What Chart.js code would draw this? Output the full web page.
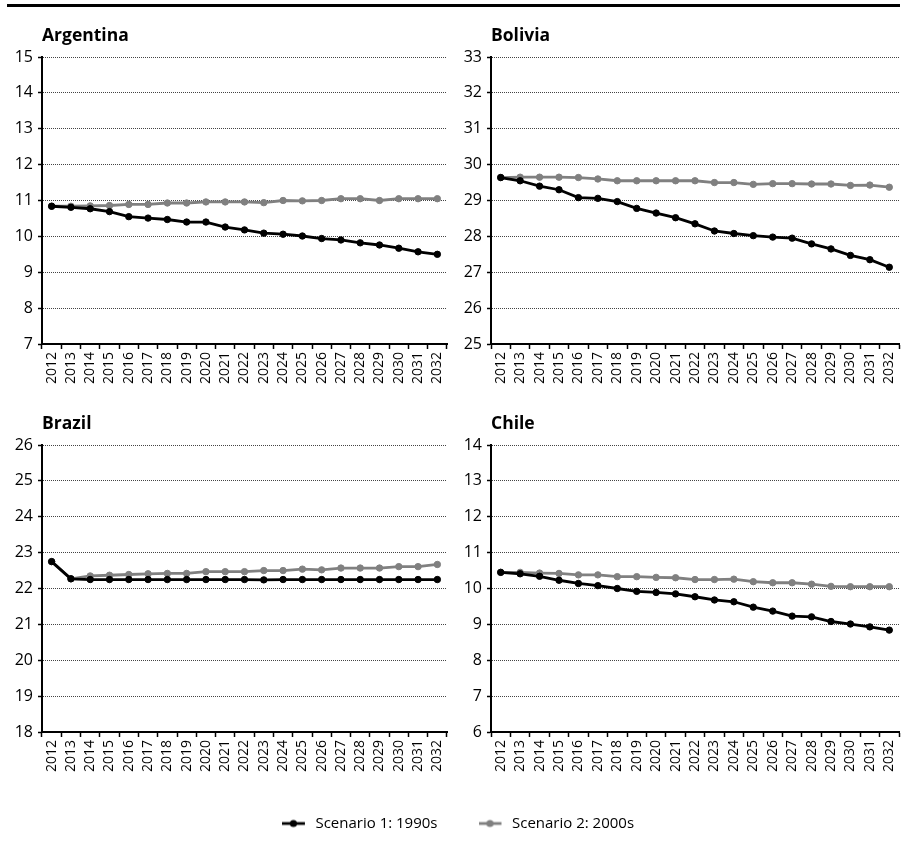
<!DOCTYPE html>
<html><head><meta charset="utf-8">
<script src="https://cdn.jsdelivr.net/npm/chart.js@4"></script>
<style>
html,body{margin:0;padding:0;background:#fff;}
#wrap{position:relative;width:904px;height:850px;overflow:hidden;background:#fff;}
#rule{position:absolute;left:7px;top:4px;width:893px;height:3px;background:#000;}
canvas{position:absolute;}
</style></head><body>
<div id="wrap"><div id="rule"></div>
<canvas id="c0" width="452" height="400" style="left:0;top:0"></canvas>
<canvas id="c1" width="455" height="400" style="left:449px;top:0"></canvas>
<canvas id="c2" width="452" height="400" style="left:0;top:388px"></canvas>
<canvas id="c3" width="455" height="400" style="left:449px;top:388px"></canvas>
<canvas id="lg" width="904" height="220" style="left:6px;top:775px"></canvas>
</div>
<script>
const years = ['2012','2013','2014','2015','2016','2017','2018','2019','2020','2021','2022','2023','2024','2025','2026','2027','2028','2029','2030','2031','2032'];
const seriesNames = ['Scenario 1: 1990s','Scenario 2: 2000s'];
const titles = ['Argentina','Bolivia','Brazil','Chile'];

const argentinaS1 = [10.84,10.81,10.77,10.69,10.55,10.51,10.47,10.40,10.40,10.26,10.18,10.09,10.06,10.01,9.94,9.90,9.82,9.76,9.67,9.57,9.50];
const argentinaS2 = [10.84,10.84,10.85,10.86,10.89,10.89,10.93,10.93,10.96,10.96,10.96,10.94,11.00,10.99,11.00,11.05,11.05,11.00,11.05,11.05,11.05];
const boliviaS1 = [29.64,29.55,29.40,29.30,29.08,29.06,28.97,28.78,28.65,28.52,28.35,28.15,28.08,28.02,27.98,27.95,27.79,27.65,27.47,27.35,27.14];
const boliviaS2 = [29.64,29.65,29.65,29.65,29.64,29.60,29.55,29.55,29.55,29.55,29.55,29.50,29.50,29.45,29.47,29.47,29.46,29.46,29.42,29.43,29.37];
const brazilS1 = [22.75,22.27,22.25,22.25,22.25,22.25,22.25,22.25,22.25,22.25,22.25,22.24,22.25,22.25,22.25,22.25,22.25,22.25,22.25,22.25,22.25];
const brazilS2 = [22.75,22.27,22.35,22.37,22.39,22.41,22.42,22.42,22.47,22.47,22.47,22.50,22.50,22.54,22.52,22.57,22.57,22.57,22.61,22.61,22.67];
const chileS1 = [10.45,10.41,10.34,10.23,10.14,10.08,10.00,9.92,9.89,9.85,9.77,9.68,9.63,9.48,9.37,9.23,9.21,9.08,9.01,8.93,8.84];
const chileS2 = [10.45,10.45,10.43,10.42,10.38,10.38,10.33,10.33,10.31,10.30,10.25,10.25,10.26,10.19,10.16,10.16,10.12,10.06,10.05,10.05,10.05];

const argentinaRange = [7,15];
const boliviaRange = [25,33];
const brazilRange = [18,26];
const chileRange = [6,14];

const C1 = '#000000', C2 = '#808080';
Chart.defaults.font.family = "'Open Sans',sans-serif";
Chart.defaults.color = '#000';

function ds(label, data, color){
  return {label, data, borderColor:color, backgroundColor:color, pointBackgroundColor:color,
    pointBorderColor:color, borderWidth:2.8, pointRadius:3.2, pointBorderWidth:1, tension:0, clip:false};
}

function panel(id, title, s1, s2, range, padR){
  new Chart(document.getElementById(id), {
    type:'line',
    data:{labels:years, datasets:[ds(seriesNames[0], s1, C1), ds(seriesNames[1], s2, C2)]},
    options:{
      responsive:false, animation:false, devicePixelRatio:1,
      layout:{padding:{left:0,right:padR,top:26,bottom:0}},
      plugins:{legend:{display:false}, tooltip:{enabled:false},
        title:{display:true, text:title, align:'start', fullSize:false, color:'#000',
          font:{size:17.5, weight:'bold'}, padding:{top:0,bottom:10}}},
      scales:{
        x:{offset:true,
          grid:{display:true, drawOnChartArea:false, drawTicks:true, tickLength:5, tickColor:'#000', tickWidth:1.5, offset:true},
          border:{color:'#000', width:2},
          ticks:{minRotation:90, maxRotation:90, autoSkip:false, color:'#000', font:{size:14}, padding:3},
          afterFit:s=>{s.height=56; s.paddingRight=0; s.paddingLeft=0;}},
        y:{min:range[0], max:range[1],
          ticks:{stepSize:1, color:'#000', font:{size:16}, padding:5},
          grid:{color:'#444', lineWidth:1, tickLength:4, tickColor:'#000', tickWidth:1.5},
          border:{color:'#000', width:2, dash:[1,1]},
          afterFit:s=>{s.width=42;}}
      }
    }
  });
}

panel('c0', titles[0], argentinaS1, argentinaS2, argentinaRange, 2);
panel('c1', titles[1], boliviaS1, boliviaS2, boliviaRange, 4);
panel('c2', titles[2], brazilS1, brazilS2, brazilRange, 2);
panel('c3', titles[3], chileS1, chileS2, chileRange, 4);

function sample(color){
  const c = document.createElement('canvas');
  c.width = 26; c.height = 10;
  const g = c.getContext('2d');
  g.strokeStyle = color; g.lineWidth = 2.8;
  g.beginPath(); g.moveTo(0,5); g.lineTo(23,5); g.stroke();
  g.fillStyle = color; g.beginPath(); g.arc(11.5,5,3.6,0,Math.PI*2); g.fill();
  return c;
}
const samples = [sample(C1), sample(C2)];

new Chart(document.getElementById('lg'), {
  type:'line',
  data:{labels:[], datasets:[ds(seriesNames[0], [], C1), ds(seriesNames[1], [], C2)]},
  options:{responsive:false, animation:false, devicePixelRatio:1,
    layout:{padding:0},
    scales:{x:{display:false}, y:{display:false}},
    plugins:{tooltip:{enabled:false},
      legend:{display:true, position:'top', align:'center',
        labels:{usePointStyle:true, pointStyleWidth:26, boxHeight:10, padding:41, color:'#000', font:{size:15},
          generateLabels:(chart)=>chart.data.datasets.map((d,i)=>({text:d.label, pointStyle:samples[i], fillStyle:d.borderColor, strokeStyle:d.borderColor, lineWidth:0, hidden:false, datasetIndex:i, fontColor:'#000'}))}}}
  }
});
</script>
</body></html>
